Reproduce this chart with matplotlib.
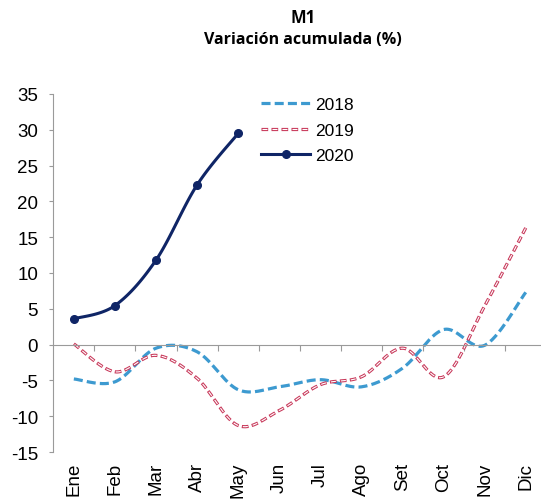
"""M1 - variacion acumulada (%) por mes, 2018-2020."""
import matplotlib

matplotlib.use("Agg")

import matplotlib.pyplot as plt
import matplotlib.transforms as mtransforms
import numpy as np

MONTHS = ["Ene", "Feb", "Mar", "Abr", "May", "Jun", "Jul", "Ago", "Set", "Oct", "Nov", "Dic"]
M1_2018 = [-4.8, -5.2, -0.5, -1.0, -6.3, -5.9, -4.9, -5.9, -3.3, 2.1, -0.1, 7.3]
M1_2019 = [0.1, -3.8, -1.5, -4.7, -11.3, -9.2, -5.6, -4.5, -0.5, -4.5, 5.4, 16.3]
M1_2020 = [3.6, 5.45, 11.8, 22.3, 29.5]

BLUE = "#3d9ad0"
RED = "#c8385a"
NAVY = "#0f2566"
GRAY = "#9a9a9a"


def smooth(y, n=30):
    """Excel-like smoothed line (Catmull-Rom through cubic Bezier)."""
    y = np.asarray(y, dtype=float)
    x = np.arange(len(y), dtype=float)
    pts = np.column_stack([x, y])
    ext = np.vstack([pts[0], pts, pts[-1]])
    out = []
    t = np.linspace(0, 1, n)[:, None]
    for i in range(len(pts) - 1):
        p0, p1, p2, p3 = ext[i], ext[i + 1], ext[i + 2], ext[i + 3]
        c1 = p1 + (p2 - p0) / 6
        c2 = p2 - (p3 - p1) / 6
        seg = ((1 - t) ** 3) * p1 + 3 * ((1 - t) ** 2) * t * c1 + 3 * (1 - t) * t ** 2 * c2 + t ** 3 * p2
        out.append(seg if i == 0 else seg[1:])
    seg = np.vstack(out)
    return seg[:, 0], seg[:, 1]


plt.rcParams["font.family"] = ["Liberation Sans", "DejaVu Sans"]
plt.rcParams["axes.unicode_minus"] = False
plt.rcParams["lines.scale_dashes"] = False

fig = plt.figure(figsize=(5.41, 5.02), dpi=100)
ax = fig.add_axes([53.3 / 541, 49 / 502, 493 / 541, 358 / 502])

x18, y18 = smooth(M1_2018)
(l18,) = ax.plot(x18, y18, color=BLUE, lw=2.3, linestyle=(0, (6.5, 3.0)))

# 2019: hollow dashes = red dashes with a thinner white dash inside
x19, y19 = smooth(M1_2019)
(l19a,) = ax.plot(x19, y19, color=RED, lw=2.3, linestyle=(0, (4.8, 2.4)))
(l19b,) = ax.plot(x19, y19, color="white", lw=0.8, linestyle=(6.5, (3.6, 3.6)))

x20, y20 = smooth(M1_2020)
ax.plot(x20, y20, color=NAVY, lw=2.2)
ax.plot(range(len(M1_2020)), M1_2020, "o", color=NAVY, ms=5.5)
(l20,) = ax.plot([], [], color=NAVY, lw=2.2, marker="o", ms=5.5)

ax.set_xlim(-0.5, len(MONTHS) - 0.5)
ax.set_ylim(-15, 35)
ax.set_yticks(range(-15, 36, 5))

for side in ["top", "right"]:
    ax.spines[side].set_visible(False)
ax.spines["left"].set_color(GRAY)
ax.spines["bottom"].set_color(GRAY)
ax.spines["bottom"].set_position(("data", 0))
ax.set_xticks(np.arange(0.5, len(MONTHS) - 0.5, 1))
ax.tick_params(axis="x", colors=GRAY, length=4, labelbottom=False)
ax.tick_params(axis="y", colors=GRAY, length=3, labelcolor="black", labelsize=13.5, pad=8)

trans = mtransforms.blended_transform_factory(ax.transData, ax.transAxes)
for i, m in enumerate(MONTHS):
    ax.text(i, -0.028, m, rotation=90, ha="center", va="top", fontsize=13.5, transform=trans)

ax.legend(
    [l18, (l19a, l19b), l20],
    ["2018", "2019", "2020"],
    loc="upper left",
    bbox_to_anchor=(0.39, 1.035),
    frameon=False,
    fontsize=12.5,
    handlelength=2.8,
    handletextpad=0.3,
    labelspacing=0.6,
)

fig.text(0.56, 0.965, "M1", ha="center", va="center", fontsize=12, fontweight="bold", family="Open Sans")
fig.text(0.56, 0.92, "Variación acumulada (%)", ha="center", va="center", fontsize=11.5,
         fontweight="bold", family="Open Sans")

fig.savefig("out.png", dpi=100)
